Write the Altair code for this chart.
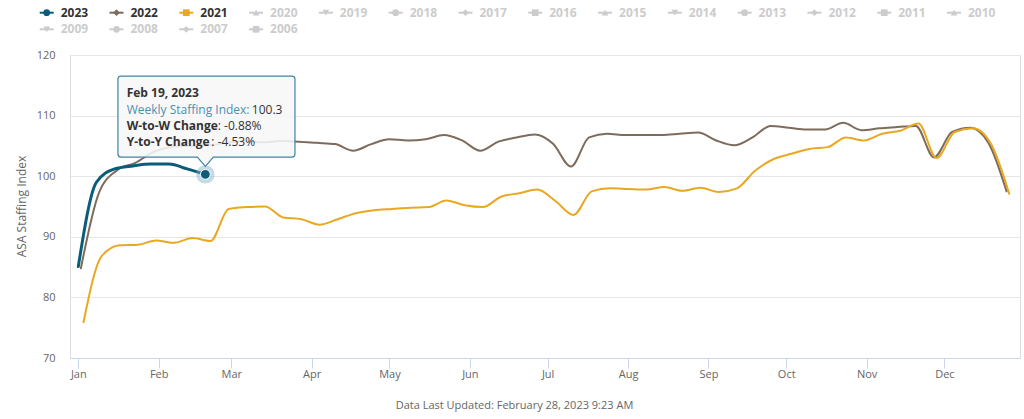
import json
import altair as alt
import pandas as pd

# ---------------- data ----------------
series_years = [2023, 2022, 2021]
series_first_week = ["2023-01-01", "2022-01-02", "2021-01-03"]

index_2023 = [85.1, 99.0, 101.2, 101.7, 102.0, 102.0, 101.2, 100.3]
index_2022 = [84.8, 97.3, 101.0, 102.2, 104.0, 104.8, 105.0, 105.1, 105.5, 105.8,
              105.6, 105.8, 105.7, 105.5, 105.3, 104.2, 105.3, 106.1, 105.9, 106.1,
              106.8, 105.9, 104.2, 105.7, 106.4, 106.9, 105.4, 101.6, 106.4, 107.0,
              106.8, 106.8, 106.8, 107.0, 107.2, 105.9, 105.1, 106.4, 108.3, 108.0,
              107.7, 107.7, 108.8, 107.6, 107.9, 108.1, 108.3, 103.1, 107.3, 108.0,
              105.5, 97.5]
index_2021 = [75.9, 86.8, 88.6, 88.7, 89.4, 89.0, 89.8, 89.3, 94.6, 94.9,
              95.0, 93.2, 92.9, 92.0, 92.9, 93.9, 94.4, 94.6, 94.8, 94.9,
              96.0, 95.2, 94.9, 96.6, 97.2, 97.8, 95.9, 93.6, 97.5, 98.0,
              97.9, 97.8, 98.2, 97.6, 98.1, 97.4, 98.0, 100.9, 102.8, 103.7,
              104.5, 104.8, 106.4, 105.9, 107.0, 107.5, 108.7, 103.0, 107.3, 107.9,
              105.3, 97.1]

legend_years = [2023, 2022, 2021, 2020, 2019, 2018, 2017, 2016, 2015, 2014,
                2013, 2012, 2011, 2010, 2009, 2008, 2007, 2006]
legend_symbols = ["circle", "diamond", "square", "triangle-up", "triangle-down",
                  "circle", "diamond", "square", "triangle-up", "triangle-down",
                  "circle", "diamond", "square", "triangle-up", "triangle-down",
                  "circle", "diamond", "square"]

month_labels = ["Jan", "Feb", "Mar", "Apr", "May", "Jun",
                "Jul", "Aug", "Sep", "Oct", "Nov", "Dec"]
y_ticks = [70, 80, 90, 100, 110, 120]

y_title = "ASA Staffing Index"
footnote = "Data Last Updated: February 28, 2023 9:23 AM"
tooltip_title = "Feb 19, 2023"
tooltip_index_label = "Weekly Staffing Index:"
tooltip_index_value = "100.3"
tooltip_wtw_label = "W-to-W Change"
tooltip_wtw_value = ": -0.88%"
tooltip_yty_label = "Y-to-Y Change"
tooltip_yty_value = ": -4.53%"

# ---------------- styles ----------------
SERIES_COLORS = {2023: "#0b5c7a", 2022: "#7d6c5b", 2021: "#e8a820"}
SERIES_WIDTH = {2023: 3, 2022: 2, 2021: 2}
INACTIVE = "#cccccc"
FONT = "Open Sans"
AXIS_GRAY = "#666666"
TOOLTIP_BORDER = "#3f85a3"
TOOLTIP_LABEL = "#4a90b0"

# ---------------- tables ----------------
rows = []
for year, start, vals in zip(series_years, series_first_week, [index_2023, index_2022, index_2021]):
    dates = pd.date_range(start, periods=len(vals), freq="7D")
    for d, v in zip(dates, vals):
        shifted = d + pd.DateOffset(years=2023 - year)
        rows.append({"year": year, "week": d.strftime("%Y-%m-%d"),
                     "x": shifted.strftime("%Y-%m-%d"), "value": v})
df = pd.DataFrame(rows)

tip = df[df.year == 2023].iloc[[-1]].reset_index(drop=True)

leg_rows = []
for i, (yr, sym) in enumerate(zip(legend_years, legend_symbols)):
    active = yr in SERIES_COLORS
    leg_rows.append({"label": str(yr), "col": i % 14, "row": i // 14,
                     "symbol": sym, "active": active,
                     "swatch": SERIES_COLORS.get(yr, INACTIVE)})
leg = pd.DataFrame(leg_rows)

# ---------------- main plot ----------------
x_scale = alt.Scale(
    type="utc",
    domain=[alt.DateTime(year=2022, month=12, date=28, hours=19, minutes=12, utc=True),
            alt.DateTime(year=2023, month=12, date=30, hours=4, utc=True)],
)
x_axis = alt.Axis(
    values=[alt.DateTime(year=2023, month=m, date=1, utc=True) for m in range(1, 13)],
    labelExpr=json.dumps(month_labels) + "[utcmonth(datum.value)]",
    grid=False, domain=True, domainColor="#ccd6eb", tickColor="#ccd6eb", tickSize=10,
    labelColor=AXIS_GRAY, labelFontSize=11, labelFont=FONT, labelPadding=0,
    title=footnote, titleX=444, titleY=47, titleAlign="center", titleBaseline="middle",
    titleFontWeight="normal", titleFontSize=11, titleColor=AXIS_GRAY, titleFont=FONT,
)
y_scale = alt.Scale(domain=[70, 120], nice=False, zero=False)
y_axis = alt.Axis(
    values=y_ticks, grid=True, gridColor="#e6e6e6", domain=False, domainOpacity=0,
    ticks=False, tickSize=0,
    labelPadding=15, labelColor=AXIS_GRAY, labelFontSize=11, labelFont=FONT,
    title=y_title, titleX=-49, titleY=151, titleAngle=-90, titleAlign="center",
    titleBaseline="middle", titleFontWeight="normal", titleFontSize=12,
    titleColor=AXIS_GRAY, titleFont=FONT,
)
X = alt.X("x:T", scale=x_scale, axis=x_axis)
Y = alt.Y("value:Q", scale=y_scale, axis=y_axis)

line_layers = []
for year in [2022, 2021, 2023]:
    line_layers.append(
        alt.Chart(df).transform_filter(alt.datum.year == year).mark_line(
            color=SERIES_COLORS[year], strokeWidth=SERIES_WIDTH[year],
            interpolate="monotone", strokeCap="round", strokeJoin="round",
        ).encode(x=X, y=Y)
    )

tip_base = alt.Chart(tip).encode(x=X, y=Y)
halo = tip_base.mark_point(filled=True, size=340, color="#7fb0c6", opacity=0.45)
dot = tip_base.mark_point(filled=True, size=95, color=SERIES_COLORS[2023], opacity=1,
                          stroke="#ffffff", strokeWidth=1)

callout_path = ("M-84.4,-98.3 L86.6,-98.3 Q89.6,-98.3 89.6,-95.3 L89.6,-20.3 "
                "Q89.6,-17.3 86.6,-17.3 L8,-17.3 L0,-8 L-8,-17.3 L-84.4,-17.3 "
                "Q-87.4,-17.3 -87.4,-20.3 L-87.4,-95.3 Q-87.4,-98.3 -84.4,-98.3 Z")
callout = tip_base.mark_point(shape=callout_path, size=4, filled=True, fill="#f7f7f7",
                              fillOpacity=0.88, stroke=TOOLTIP_BORDER, strokeWidth=1.2,
                              opacity=1)


def tip_text(text, dx, dy, color="#333333", weight="normal"):
    return tip_base.mark_text(align="left", baseline="middle", dx=dx, dy=dy,
                              font=FONT, fontSize=12, fontWeight=weight,
                              color=color).encode(text=alt.value(text))


tip_texts = [
    tip_text(tooltip_title, -78.7, -81.6, weight="bold"),
    tip_text(tooltip_index_label, -78.7, -64.3, color=TOOLTIP_LABEL),
    tip_text(tooltip_index_value, 46.5, -64.3),
    tip_text(tooltip_wtw_label, -78.7, -48.3, weight="bold"),
    tip_text(tooltip_wtw_value, 12.4, -48.3),
    tip_text(tooltip_yty_label, -78.7, -32.6, weight="bold"),
    tip_text(tooltip_yty_value, 6.0, -32.6),
]

main = alt.layer(*line_layers, halo, dot, callout, *tip_texts)

# ---------------- legend (own scales) ----------------
LX = alt.X("col:Q", scale=alt.Scale(domain=[0, 13], range=[-23.3, 884.0]), axis=None)
LY = alt.Y("row:Q", scale=alt.Scale(domain=[0, 1], range=[-42.3, -25.7]), axis=None)
leg_base = alt.Chart(leg).encode(x=LX, y=LY)
leg_line = leg_base.mark_point(shape="M-1,0L1,0", size=196, filled=False, strokeWidth=2,
                               opacity=1).encode(color=alt.Color("swatch:N", scale=None, legend=None))
leg_marker = leg_base.mark_point(filled=True, size=45, opacity=1).encode(
    color=alt.Color("swatch:N", scale=None, legend=None),
    shape=alt.Shape("symbol:N", scale=None, legend=None),
)
leg_text = leg_base.mark_text(align="left", baseline="middle", dx=14, font=FONT,
                              fontSize=12, fontWeight="bold").encode(
    text="label:N",
    color=alt.condition("datum.active", alt.value("#333333"), alt.value(INACTIVE)),
)
legend = alt.layer(leg_line, leg_marker, leg_text)

chart = alt.layer(main, legend).resolve_scale(
    x="independent", y="independent", color="independent", shape="independent"
).properties(
    width=950, height=303,
    padding={"left": 70, "top": 55, "right": 4, "bottom": 61},
    autosize=alt.AutoSizeParams(type="none"),
    background="white",
).configure_view(stroke="transparent", strokeWidth=0).configure_axisY(
    domain=False, domainOpacity=0
).configure(font=FONT)

chart.save("out.html", embed_options={"renderer": "svg", "actions": False})
